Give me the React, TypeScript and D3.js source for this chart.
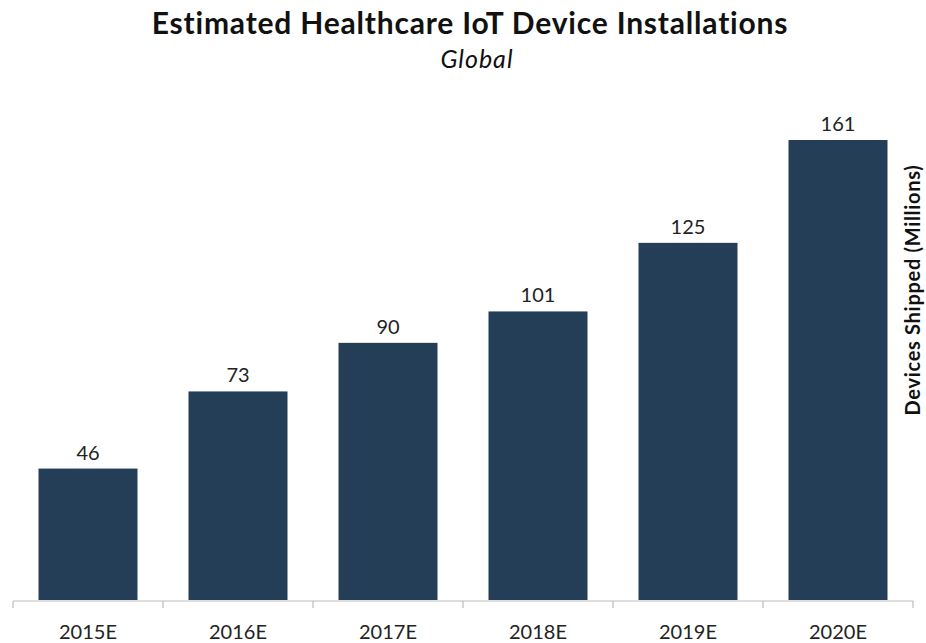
import React from "react";
import * as d3 from "d3";

const categories = ["2015E", "2016E", "2017E", "2018E", "2019E", "2020E"];
const values = [46, 73, 90, 101, 125, 161];
const titleText = "Estimated Healthcare IoT Device Installations";
const subtitleText = "Global";
const yLabel = "Devices Shipped (Millions)";

const W = 926;
const H = 643;

export default function App() {
  const x = d3.scaleBand<string>().domain(categories).range([13, 913]).paddingInner(0.34).paddingOuter(0.17);
  const y = d3.scaleLinear().domain([0, 161]).range([600, 140]);
  const step = x.step();
  const font = "Lato, 'Open Sans', sans-serif";
  const tickXs = d3.range(categories.length + 1).map((i) => 13 + i * step);
  return (
    <svg width={W} height={H} style={{ position: "absolute", left: 0, top: 0, background: "#fff" }}>
      <rect width={W} height={H} fill="#fff" />
      <text x={470} y={34} textAnchor="middle" fontFamily={font} fontWeight="bold" fontSize={30} letterSpacing={0.8} fill="#111">
        {titleText}
      </text>
      <text x={477} y={68} textAnchor="middle" fontFamily={font} fontStyle="italic" fontSize={25} letterSpacing={1} fill="#111">
        {subtitleText}
      </text>
      {categories.map((c, i) => (
        <g key={c}>
          <rect x={x(c)} y={y(values[i])} width={x.bandwidth()} height={600 - y(values[i])} fill="#243e58" />
          <text x={(x(c) as number) + x.bandwidth() / 2} y={y(values[i]) - 9} textAnchor="middle" fontFamily={font} fontSize={20} fill="#222">
            {values[i]}
          </text>
          <text x={(x(c) as number) + x.bandwidth() / 2} y={639} textAnchor="middle" fontFamily={font} fontSize={20} fill="#222">
            {c}
          </text>
        </g>
      ))}
      <line x1={13} x2={913} y1={601} y2={601} stroke="#bdbdbd" strokeWidth={1.2} />
      {tickXs.map((t, i) => (
        <line key={i} x1={t} x2={t} y1={601} y2={608} stroke="#bdbdbd" strokeWidth={1.2} />
      ))}
      <text transform="translate(920,290) rotate(-90)" textAnchor="middle" fontFamily={font} fontWeight="bold" fontSize={20} letterSpacing={0.7} fill="#111">
        {yLabel}
      </text>
    </svg>
  );
}
